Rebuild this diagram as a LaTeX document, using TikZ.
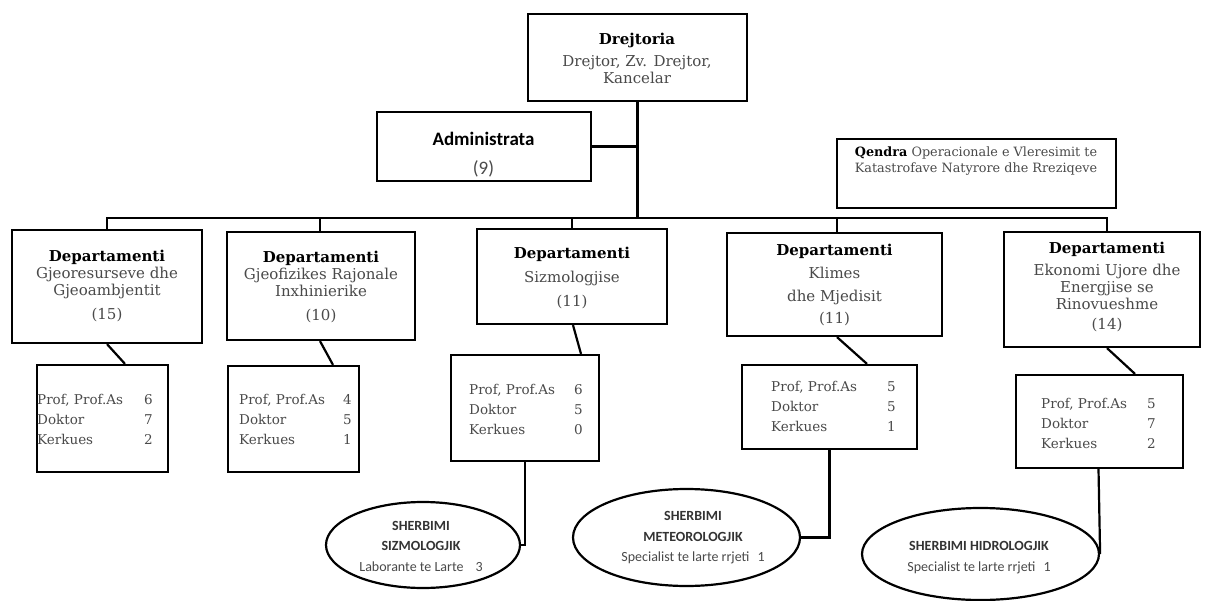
\documentclass[tikz,border=0pt]{standalone}
\usepackage{fontspec}
\setmainfont{DejaVu Serif}
\newfontfamily\carl{Carlito}
\usetikzlibrary{shapes.geometric}
\definecolor{txtgray}{HTML}{4A4A4A}
\newcommand{\rw}[3]{\makebox[#1pt][l]{#2}#3}
\begin{document}
\begin{tikzpicture}[x=1pt,y=-1pt,
  box/.style={draw, rectangle, line width=2.2pt, inner sep=0pt},
  oval/.style={draw, ellipse, line width=2.2pt, inner sep=0pt},
  conn/.style={line width=2.2pt},
  dtxt/.style={align=center, text=txtgray, inner sep=0pt, font=\fontsize{15}{17}\selectfont},
  stxt/.style={align=left, anchor=west, text=txtgray, inner sep=0pt, font=\fontsize{13.5}{20}\selectfont},
  etxt/.style={align=center, text=txtgray, inner sep=0pt, font=\carl\fontsize{14}{20.5}\selectfont},
]
\useasboundingbox (0,0) rectangle (1206,601);
\fill[white] (0,0) rectangle (1206,601);

% top boxes
\node[box, minimum width=219pt, minimum height=87pt] (dir) at (637.5,57.5) {};
\node[dtxt] (dirt) at (637,58) {\textcolor{black}{\textbf{Drejtoria}}\\[5pt]Drejtor, Zv. Drejtor,\\Kancelar};
\node[box, minimum width=214pt, minimum height=69pt] (adm) at (484,146.5) {};
\node[dtxt, font=\carl\fontsize{19}{20}\selectfont] (admt) at (483.5,154.5) {\textcolor{black}{\textbf{Administrata}}\\[9pt](9)};
\node[box, minimum width=279pt, minimum height=69pt] (qen) at (976.5,173.5) {};
\node[dtxt, font=\fontsize{12.8}{16}\selectfont] (qent) at (976,161) {\textcolor{black}{\textbf{Qendra}} Operacionale e Vleresimit te\\Katastrofave Natyrore dhe Rreziqeve};

% departments
\node[box, minimum width=190pt, minimum height=113pt] (d1) at (107,286.5) {};
\node[dtxt] (d1t) at (107,286) {\textcolor{black}{\textbf{Departamenti}}\\Gjeoresurseve dhe\\Gjeoambjentit\\[7pt](15)};
\node[box, minimum width=188pt, minimum height=108pt] (d2) at (321,286) {};
\node[dtxt] (d2t) at (321,286.5) {\textcolor{black}{\textbf{Departamenti}}\\Gjeofizikes Rajonale\\Inxhinierike\\[7pt](10)};
\node[box, minimum width=190pt, minimum height=95pt] (d3) at (572,276.5) {};
\node[dtxt] (d3t) at (572,277.5) {\textcolor{black}{\textbf{Departamenti}}\\[7pt]Sizmologjise\\[7pt](11)};
\node[box, minimum width=215pt, minimum height=103pt] (d4) at (834.5,284.5) {};
\node[dtxt] (d4t) at (834.5,285) {\textcolor{black}{\textbf{Departamenti}}\\[6pt]Klimes\\[6pt]dhe Mjedisit\\[5pt](11)};
\node[box, minimum width=196pt, minimum height=115pt] (d5) at (1102,289.5) {};
\node[dtxt] (d5t) at (1107,287) {\textcolor{black}{\textbf{Departamenti}}\\[5pt]Ekonomi Ujore dhe\\Energjise se\\Rinovueshme\\[3pt](14)};

% staff boxes
\node[box, minimum width=131pt, minimum height=107pt] (s1) at (102.5,418.5) {};
\node[stxt] (s1t) at (37,419) {\rw{107}{Prof, Prof.As}{6}\\\rw{107}{Doktor}{7}\\\rw{107}{Kerkues}{2}};
\node[box, minimum width=131pt, minimum height=106pt] (s2) at (293.5,419) {};
\node[stxt] (s2t) at (239,419) {\rw{104}{Prof, Prof.As}{4}\\\rw{104}{Doktor}{5}\\\rw{104}{Kerkues}{1}};
\node[box, minimum width=148pt, minimum height=106pt] (s3) at (525,408) {};
\node[stxt] (s3t) at (469,409) {\rw{105}{Prof, Prof.As}{6}\\\rw{105}{Doktor}{5}\\\rw{105}{Kerkues}{0}};
\node[box, minimum width=175pt, minimum height=84pt] (s4) at (829.5,407) {};
\node[stxt] (s4t) at (771,406) {\rw{116}{Prof, Prof.As}{5}\\\rw{116}{Doktor}{5}\\\rw{116}{Kerkues}{1}};
\node[box, minimum width=167pt, minimum height=93pt] (s5) at (1099.5,421.5) {};
\node[stxt] (s5t) at (1041,423) {\rw{106}{Prof, Prof.As}{5}\\\rw{106}{Doktor}{7}\\\rw{106}{Kerkues}{2}};

% services
\node[oval, minimum width=194pt, minimum height=86pt] (e1) at (423,545) {};
\node[etxt] (e1t) at (421,546) {\textcolor{black!80}{\textbf{SHERBIMI}}\\\textcolor{black!80}{\textbf{SIZMOLOGJIK}}\\Laborante te Larte\hspace{12pt}3};
\node[oval, minimum width=227pt, minimum height=97pt] (e2) at (686.5,537.5) {};
\node[etxt] (e2t) at (693,538) {\textcolor{black!80}{\textbf{SHERBIMI}}\\\textcolor{black!80}{\textbf{METEOROLOGJIK}}\\Specialist te larte rrjeti\hspace{8pt}1};
\node[oval, minimum width=237pt, minimum height=92pt] (e3) at (980.5,554) {};
\node[etxt] (e3t) at (979,557.5) {\textcolor{black!80}{\textbf{SHERBIMI HIDROLOGJIK}}\\Specialist te larte rrjeti\hspace{8pt}1};

% connectors
\coordinate (busL) at (107,218);
\coordinate (busR) at (1107,218);
\draw[conn] (dir.south) -- (dir.south |- busL);
\draw[conn] (adm.east) -- (adm.east -| dir.south);
\draw[conn, line cap=rect] (busL) -- (busR);
\draw[conn] (d1.north) -- (d1.north |- busL);
\draw[conn] ([xshift=-1pt]d2.north) -- ([xshift=-1pt]d2.north |- busL);
\draw[conn] (d3.north) -- (d3.north |- busL);
\draw[conn] ([xshift=2.5pt]d4.north) -- ([xshift=2.5pt]d4.north |- busL);
\draw[conn] ([xshift=5pt]d5.north) -- ([xshift=5pt]d5.north |- busL);

\draw[conn] (d1.south) -- ([xshift=22.5pt]s1.north);
\draw[conn] ([xshift=-1pt]d2.south) -- ([xshift=39.5pt]s2.north);
\draw[conn] ([xshift=1pt]d3.south) -- ([xshift=56pt]s3.north);
\draw[conn] ([xshift=2.5pt]d4.south) -- ([xshift=37.5pt]s4.north);
\draw[conn] ([xshift=5pt]d5.south) -- ([xshift=35.5pt]s5.north);

\draw[conn] (s3.south) |- (e1.east);
\draw[conn] (s4.south) |- (e2.east);
\draw[conn] ([xshift=-1pt]s5.south) -- (e3.east);
\end{tikzpicture}
\end{document}
